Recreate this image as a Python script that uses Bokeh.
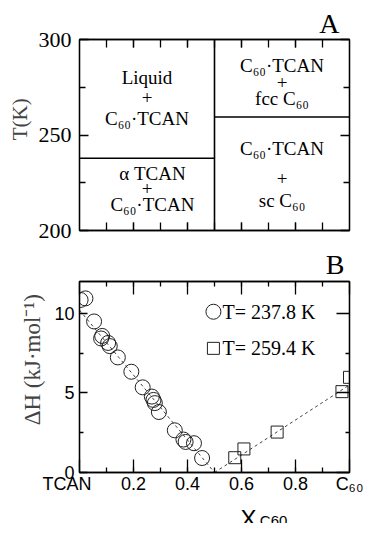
from bokeh.plotting import figure
from bokeh.layouts import column
from bokeh.models import Range1d, FixedTicker, LinearAxis
from bokeh.core.properties import value
from bokeh.embed import file_html
from bokeh.resources import INLINE

# ---------------- data ----------------
# Panel A: phase boundaries
x_eutectic = 0.5            # composition of C60·TCAN
T_left = 237.8              # K, boundary on the TCAN-rich side
T_right = 259.4             # K, boundary on the C60-rich side
T_min, T_max = 200, 300
a_yticks = [200, 250, 300]
a_yminor = [225, 275]
ab_xminor = [0.1, 0.2, 0.3, 0.4, 0.5, 0.6, 0.7, 0.8, 0.9]
a_xticks = [0.2, 0.4, 0.6, 0.8]

region_text = ["Liquid", "+", "C₆₀·TCAN",
               "α TCAN", "+", "C₆₀·TCAN",
               "C₆₀·TCAN", "+", "fcc C₆₀",
               "C₆₀·TCAN", "+", "sc C₆₀"]

# Panel B: enthalpy vs composition
circ_x = [0.004, 0.022, 0.054, 0.080, 0.084, 0.106, 0.112, 0.142, 0.192, 0.234,
          0.268, 0.274, 0.279, 0.294, 0.353, 0.385, 0.393, 0.424, 0.454]
circ_y = [10.84, 10.94, 9.49, 8.42, 8.58, 8.14, 7.94, 7.23, 6.33, 5.35,
          4.77, 4.56, 4.36, 3.80, 2.65, 2.07, 1.92, 1.84, 0.91]
sq_x = [0.575, 0.609, 0.732, 0.972, 1.0]
sq_y = [0.93, 1.48, 2.54, 5.08, 5.98]
fit_left_x = [0.0, 0.5]
fit_left_y = [10.2, 0.0]
fit_right_x = [0.5, 1.0]
fit_right_y = [0.0, 5.5]
b_xticks = [0.0, 0.2, 0.4, 0.6, 0.8, 1.0]
b_xlabels = {0.0: "TCAN\u00a0\u00a0\u00a0\u00a0\u00a0", 0.2: "0.2", 0.4: "0.4",
             0.6: "0.6", 0.8: "0.8", 1.0: "C₆₀"}
b_yticks = [0, 5, 10]
b_yminor = [2.5, 7.5]
H_max = 12
legend_labels = ["T= 237.8 K", "T= 259.4 K"]

SERIF = "Liberation Serif"
SANS = "Liberation Sans"
LW = 1.3
NB = "\u00a0"


def style_axis(ax, ticks, minor, major_len, minor_len, show_labels, font=SANS, size="18px", standoff=5):
    ax.ticker = FixedTicker(ticks=ticks, minor_ticks=minor)
    ax.major_tick_in = major_len
    ax.major_tick_out = 0
    ax.minor_tick_in = minor_len
    ax.minor_tick_out = 0
    ax.axis_line_color = "black"
    ax.axis_line_width = LW
    ax.major_tick_line_color = "black"
    ax.major_tick_line_width = LW
    ax.minor_tick_line_color = "black"
    ax.minor_tick_line_width = LW
    if show_labels:
        ax.major_label_text_font = font
        ax.major_label_text_font_size = size
        ax.major_label_text_color = "black"
        ax.major_label_standoff = standoff
    else:
        ax.major_label_text_font_size = "0px"
        ax.major_label_standoff = 0


def base_fig(yr, top, bottom, fh):
    p = figure(frame_width=270, frame_height=fh, x_range=Range1d(0, 1), y_range=yr,
               output_backend="svg", toolbar_location=None,
               min_border_left=79, min_border_right=16,
               min_border_top=top, min_border_bottom=bottom)
    p.xgrid.visible = False
    p.ygrid.visible = False
    p.outline_line_color = "black"
    p.outline_line_width = LW
    p.background_fill_color = "white"
    p.border_fill_color = "white"
    return p


def panel_title(p, letter, offset, standoff):
    p.title.text = letter
    p.title.align = "right"
    p.title.offset = offset
    p.title.standoff = standoff
    p.title.text_font = SERIF
    p.title.text_font_size = "28px"
    p.title.text_font_style = "normal"
    p.title.text_color = "black"


# ---------------- Panel A ----------------
pA = base_fig(Range1d(T_min, T_max), 39, 14, 191)
panel_title(pA, "A", 10, 2)
style_axis(pA.xaxis[0], a_xticks, ab_xminor, 8, 8, False)
style_axis(pA.yaxis[0], a_yticks, a_yminor, 9, 6, True, SERIF, "22px", 8)
pA.yaxis[0].axis_label = NB * 6 + "T(K)"
pA.yaxis[0].axis_label_text_font = SERIF
pA.yaxis[0].axis_label_text_font_size = "21px"
pA.yaxis[0].axis_label_text_font_style = "normal"
pA.yaxis[0].axis_label_standoff = 4
axA_top = LinearAxis()
axA_right = LinearAxis()
pA.add_layout(axA_top, "above")
pA.add_layout(axA_right, "right")
style_axis(axA_top, a_xticks, ab_xminor, 8, 8, False)
style_axis(axA_right, a_yticks, a_yminor, 9, 6, False)

pA.line([x_eutectic, x_eutectic], [T_min, T_max], line_color="black", line_width=1.6)
pA.line([0, x_eutectic], [T_left, T_left], line_color="black", line_width=1.6)
pA.line([x_eutectic, 1], [T_right, T_right], line_color="black", line_width=1.6)

lab_x = [0.25, 0.25, 0.25, 0.27, 0.25, 0.27, 0.75, 0.75, 0.75, 0.75, 0.75, 0.75]
lab_y = [280.0, 269.6, 258.6, 229.8, 222.0, 213.6, 286.4, 277.5, 269.0, 242.9, 227.2, 215.7]
pA.text(x=lab_x, y=lab_y, text=region_text, text_font=value(SERIF), text_font_size="19px",
        text_align="center", text_baseline="middle", text_color="black")

# ---------------- Panel B ----------------
pB = base_fig(Range1d(0, H_max), 35, 20, 191)
panel_title(pB, "B", 5, 4)
style_axis(pB.xaxis[0], b_xticks, ab_xminor, 13, 5, True, SANS, "18px", 1)
pB.xaxis[0].major_label_overrides = b_xlabels
style_axis(pB.yaxis[0], b_yticks, b_yminor, 8, 4, True, SANS, "18px", 5)
pB.yaxis[0].axis_label = NB * 7 + "ΔH  (kJ·mol⁻¹)"
pB.yaxis[0].axis_label_text_font = SERIF
pB.yaxis[0].axis_label_text_font_size = "23px"
pB.yaxis[0].axis_label_text_font_style = "normal"
pB.yaxis[0].axis_label_standoff = 6
axB_top = LinearAxis()
axB_right = LinearAxis()
pB.add_layout(axB_top, "above")
pB.add_layout(axB_right, "right")
style_axis(axB_top, b_xticks, ab_xminor, 13, 5, False)
style_axis(axB_right, b_yticks, b_yminor, 13, 4, False)

pB.line(fit_left_x, fit_left_y, line_color="#444444", line_width=1, line_dash="3 3")
pB.line(fit_right_x, fit_right_y, line_color="#444444", line_width=1, line_dash="3 3")
pB.scatter(circ_x, circ_y, marker="circle", size=15, fill_color=None,
           line_color="#222222", line_width=1)
pB.scatter(sq_x, sq_y, marker="square", size=12, fill_color=None,
           line_color="#222222", line_width=1)

# legend (drawn as keys inside the frame)
leg_x = [0.496, 0.496]
leg_y = [10.1, 7.8]
pB.scatter(leg_x[:1], leg_y[:1], marker="circle", size=15, fill_color=None,
           line_color="#222222", line_width=1)
pB.scatter(leg_x[1:], leg_y[1:], marker="square", size=12, fill_color=None,
           line_color="#222222", line_width=1)
pB.text(x=[0.53, 0.53], y=leg_y, text=legend_labels, text_font=value(SERIF),
        text_font_size="20px", text_align="left", text_baseline="middle",
        text_color="black")

# ---------------- x-axis title strip ----------------
pC = figure(frame_width=270, frame_height=27, x_range=Range1d(0, 1), y_range=Range1d(0, 27),
            output_backend="svg", toolbar_location=None,
            min_border_left=79, min_border_right=16, min_border_top=0, min_border_bottom=0,
            x_axis_location=None, y_axis_location=None)
pC.xgrid.visible = False
pC.ygrid.visible = False
pC.outline_line_color = None
pC.background_fill_color = "white"
pC.border_fill_color = "white"
pC.text(x=[0.596], y=[5.2], text=["X"], text_font=value(SANS), text_font_size="24px",
        text_align="left", text_baseline="alphabetic", text_color="black")
pC.text(x=[0.668], y=[3.3], text=["C60"], text_font=value(SANS), text_font_size="15px",
        text_align="left", text_baseline="alphabetic", text_color="black")

layout = column(pA, pB, pC, spacing=0)
open("out.html", "w").write(file_html(layout, INLINE))
